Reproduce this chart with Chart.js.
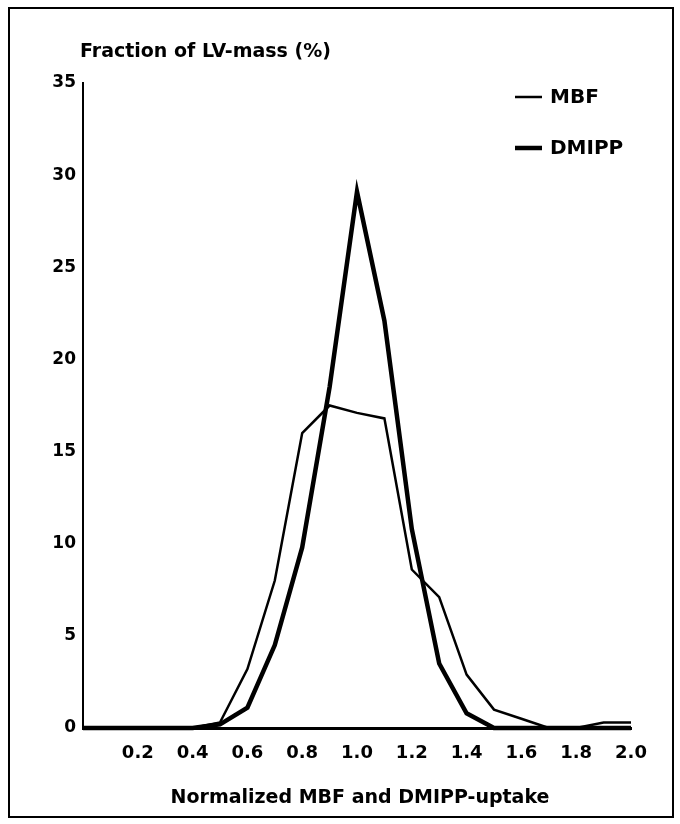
<!DOCTYPE html>
<html>
<head>
<meta charset="utf-8">
<script src="https://cdn.jsdelivr.net/npm/chart.js@4.4.1/dist/chart.umd.min.js"></script>
<style>
  html, body { margin: 0; padding: 0; background: #fff; }
</style>
</head>
<body>
<canvas id="lvChart" width="680" height="824"></canvas>
<script>
// normalized uptake bins (x) and fraction of LV-mass (%) per bin
const uptake = [0.0, 0.1, 0.2, 0.3, 0.4, 0.5, 0.6, 0.7, 0.8, 0.9, 1.0,
                1.1, 1.2, 1.3, 1.4, 1.5, 1.6, 1.7, 1.8, 1.9, 2.0];
const mbf   = [0, 0, 0, 0, 0, 0.3, 3.2, 8.0, 16.0, 17.5, 17.1,
               16.8, 8.6, 7.1, 2.9, 1.0, 0.5, 0, 0, 0.3, 0.3];
const dmipp = [0, 0, 0, 0, 0, 0.2, 1.1, 4.5, 9.8, 18.5, 29.1,
               22.1, 10.8, 3.5, 0.8, 0, 0, 0, 0, 0, 0];

const xTicks = [0.2, 0.4, 0.6, 0.8, 1.0, 1.2, 1.4, 1.6, 1.8, 2.0];
const yTicks = [0, 5, 10, 15, 20, 25, 30, 35];

const seriesNames = ['MBF', 'DMIPP'];
const yTitle = 'Fraction of LV-mass (%)';
const xTitle = 'Normalized MBF and DMIPP-uptake';

const FONT = 'DejaVu Sans';

function toPoints(values) {
    return uptake.map((x, i) => ({ x: x, y: values[i] }));
}

// frame, axis titles and the little legend in the top right
const decorations = {
    id: 'decorations',
    beforeDraw(chart) {
        const c = chart.ctx;
        c.save();
        c.fillStyle = '#fff';
        c.fillRect(0, 0, chart.width, chart.height);
        c.restore();
    },
    afterDraw(chart) {
        const c = chart.ctx;
        const area = chart.chartArea;
        c.save();
        c.strokeStyle = '#000';
        c.lineWidth = 2;
        c.strokeRect(9, 8, 664, 809);

        c.fillStyle = '#000';
        c.font = 'bold 19px "' + FONT + '"';
        c.textBaseline = 'middle';
        c.textAlign = 'left';
        c.fillText(yTitle, 80, 52);

        c.font = 'bold 19px "' + FONT + '"';
        c.textAlign = 'center';
        c.fillText(xTitle, (area.left + area.right) / 2 + 3, 798);

        // legend
        const rows = [97, 148];
        c.font = 'bold 20px "' + FONT + '"';
        c.textAlign = 'left';
        chart.data.datasets.forEach((ds, i) => {
            c.lineWidth = ds.borderWidth;
            c.beginPath();
            c.moveTo(515, rows[i]);
            c.lineTo(542, rows[i]);
            c.stroke();
            c.fillText(ds.label, 550, rows[i] + 1);
        });
        c.restore();
    }
};

const ctx = document.getElementById('lvChart').getContext('2d');
new Chart(ctx, {
    type: 'line',
    data: {
        datasets: [{
            label: seriesNames[0],
            data: toPoints(mbf),
            borderColor: '#000',
            borderWidth: 2.5,
            pointRadius: 0,
            tension: 0,
            clip: false
        }, {
            label: seriesNames[1],
            data: toPoints(dmipp),
            borderColor: '#000',
            borderWidth: 4.5,
            pointRadius: 0,
            tension: 0,
            clip: false
        }]
    },
    options: {
        responsive: false,
        animation: false,
        devicePixelRatio: 1,
        layout: {
            padding: { left: 20, right: 49, top: 83, bottom: 0 }
        },
        plugins: {
            legend: { display: false },
            tooltip: { enabled: false }
        },
        scales: {
            x: {
                type: 'linear',
                min: 0,
                max: 2.0,
                afterBuildTicks: scale => {
                    scale.ticks = xTicks.map(v => ({ value: v }));
                },
                afterFit: scale => { scale.height = 96; },
                grid: { display: false, drawTicks: false },
                border: { display: true, color: '#000', width: 3 },
                ticks: {
                    color: '#000',
                    padding: 15,
                    maxRotation: 0,
                    autoSkip: false,
                    font: { family: FONT, size: 18, weight: 'bold' },
                    callback: v => v.toFixed(1)
                }
            },
            y: {
                min: 0,
                max: 35,
                afterBuildTicks: scale => {
                    scale.ticks = yTicks.map(v => ({ value: v }));
                },
                afterFit: scale => { scale.width = 63; },
                grid: { display: false, drawTicks: false },
                border: { display: true, color: '#000', width: 2 },
                ticks: {
                    color: '#000',
                    padding: 7,
                    autoSkip: false,
                    font: { family: FONT, size: 17, weight: 'bold' }
                }
            }
        }
    },
    plugins: [decorations]
});
</script>
</body>
</html>
